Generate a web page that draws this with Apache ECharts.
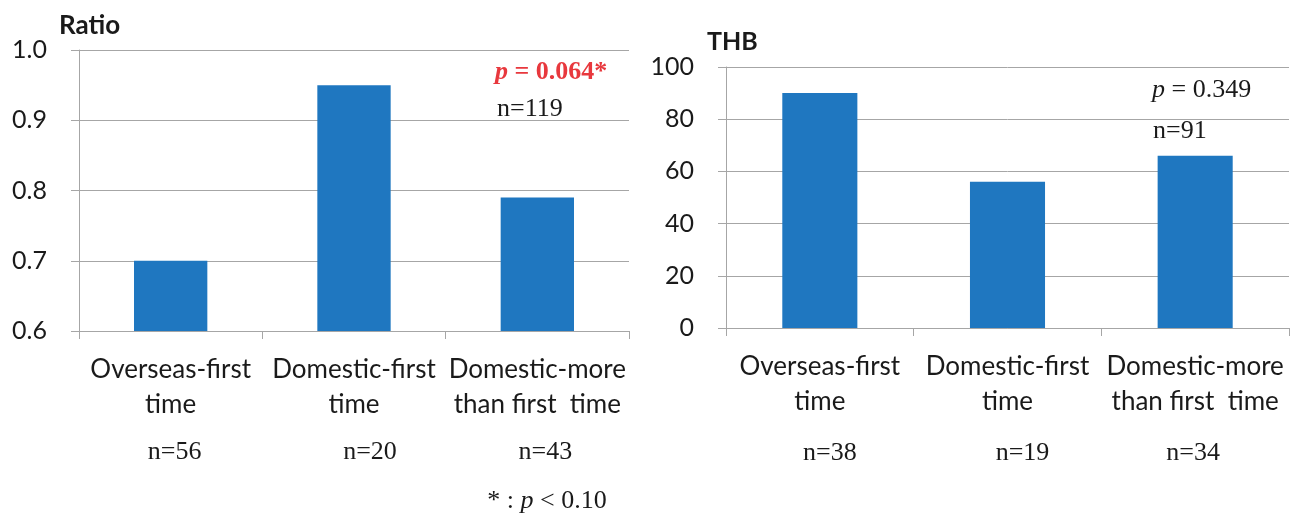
<!DOCTYPE html>
<html>
<head>
<meta charset="utf-8">
<script src="https://cdn.jsdelivr.net/npm/echarts@6/dist/echarts.min.js"></script>
<style>
html,body{margin:0;padding:0;background:#fff;}
#chart{width:1301px;height:518px;}
</style>
</head>
<body>
<div id="chart"></div>
<script>
// ---- data ----
const categories = ['Overseas-first\ntime', 'Domestic-first\ntime', 'Domestic-more\nthan first  time'];
const ratioValues = [0.70, 0.95, 0.79];
const ratioCounts = ['n=56', 'n=20', 'n=43'];
const thbValues = [90, 56, 66];
const thbCounts = ['n=38', 'n=19', 'n=34'];
const ratioTicks = [0.6, 0.7, 0.8, 0.9, 1.0];
const thbTicks = [0, 20, 40, 60, 80, 100];
const ratioAnnot = {p: '0.064*', n: 'n=119'};
const thbAnnot = {p: '0.349', n: 'n=91'};
const footnote = ' : ';

const SANS = 'Lato, "Noto Sans", sans-serif';
const SERIF = '"Liberation Serif", "DejaVu Serif", serif';
const GRAY = '#a6a6a6';
const TXT = '#1a1a1a';
const BAR = '#1f77c0';

function xAxisCfg(gridIndex, counts, nLineHeight, nPads) {
  const rich = {c: {fontFamily: SANS, fontSize: 26, lineHeight: 35, color: TXT}};
  nPads.forEach((p, i) => {
    rich['n' + i] = {fontFamily: SERIF, fontSize: 26, lineHeight: nLineHeight, color: TXT, padding: p};
  });
  return {
    type: 'category', gridIndex: gridIndex, data: categories,
    axisLine: {show: true, lineStyle: {color: GRAY, width: 1}},
    axisTick: {show: true, length: 8, lineStyle: {color: GRAY}},
    axisLabel: {
      margin: 21, interval: 0,
      formatter: (v, i) => '{c|' + v + '}\n{n' + i + '|' + counts[i] + '}',
      rich: rich
    }
  };
}

function yAxisCfg(gridIndex, ticks, decimals) {
  return {
    type: 'value', gridIndex: gridIndex,
    min: ticks[0], max: ticks[ticks.length - 1], interval: ticks[1] - ticks[0],
    axisLine: {show: true, lineStyle: {color: GRAY, width: 1}},
    axisTick: {show: true, length: 8, lineStyle: {color: GRAY}},
    splitLine: {show: true, lineStyle: {color: GRAY, width: 1}},
    axisLabel: {
      margin: 32, fontFamily: SANS, fontSize: 25, color: TXT,
      formatter: v => v.toFixed(decimals)
    }
  };
}

const chart = echarts.init(document.getElementById('chart'), null, {renderer: 'canvas'});
chart.setOption({
  animation: false,
  backgroundColor: '#fff',
  grid: [
    {left: 79, right: 672, top: 50, bottom: 187},
    {left: 726, right: 12, top: 67, bottom: 190}
  ],
  xAxis: [
    xAxisCfg(0, ratioCounts, 61, [[0,0,0,8], [0,0,0,32], [0,0,0,16]]),
    xAxisCfg(1, thbCounts, 68, [[0,0,0,20], [0,0,0,30], [0,4,0,0]])
  ],
  yAxis: [
    yAxisCfg(0, ratioTicks, 1),
    yAxisCfg(1, thbTicks, 0)
  ],
  series: [
    {type: 'bar', xAxisIndex: 0, yAxisIndex: 0, data: ratioValues, barWidth: '40%', itemStyle: {color: BAR}},
    {type: 'bar', xAxisIndex: 1, yAxisIndex: 1, data: thbValues, barWidth: '40%', itemStyle: {color: BAR}}
  ],
  graphic: [
    {type: 'text', left: 59, top: 13, style: {text: 'Ratio', font: 'bold 26px ' + SANS, fill: TXT}},
    {type: 'text', left: 707, top: 29, style: {text: 'THB', font: 'bold 25px ' + SANS, fill: TXT}},
    {type: 'text', x: 495, y: 72, style: {
      text: '{i|p} = ' + ratioAnnot.p, fill: '#e8383d', verticalAlign: 'middle',
      font: 'bold 26px ' + SERIF,
      rich: {i: {fontStyle: 'italic', fontWeight: 'bold', fontFamily: SERIF, fontSize: 26, fill: '#e8383d'}}
    }},
    {type: 'text', x: 497, y: 109, style: {text: ratioAnnot.n, font: '26px ' + SERIF, fill: TXT, verticalAlign: 'middle'}},
    {type: 'text', x: 1152, y: 90, style: {
      text: '{i|p} = ' + thbAnnot.p, fill: TXT, verticalAlign: 'middle',
      font: '26px ' + SERIF,
      rich: {i: {fontStyle: 'italic', fontFamily: SERIF, fontSize: 26, fill: TXT}}
    }},
    {type: 'text', x: 1153, y: 131, style: {text: thbAnnot.n, font: '26px ' + SERIF, fill: TXT, verticalAlign: 'middle'}},
    {type: 'text', x: 547, y: 501, style: {
      text: '*' + footnote + '{i|p} < 0.10', fill: TXT, align: 'center', verticalAlign: 'middle',
      font: '26px ' + SERIF,
      rich: {i: {fontStyle: 'italic', fontFamily: SERIF, fontSize: 26, fill: TXT}}
    }}
  ]
});
</script>
</body>
</html>
